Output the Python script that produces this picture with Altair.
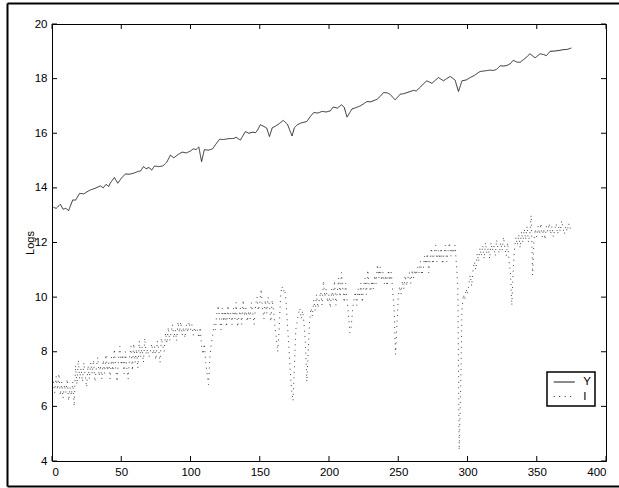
import altair as alt
import pandas as pd

# ---- data ----
y_x = [1, 3, 6, 8, 10, 12, 15, 17, 20, 23, 26, 28, 31, 33, 35, 37, 39, 41, 42, 45,
       47.5, 50, 53, 56, 59, 62, 64, 66, 68, 70, 72, 74, 77, 80, 83, 85.5, 88, 91, 94, 97,
       100, 102, 104, 106, 108, 110, 113, 116, 118, 121, 124, 127, 131, 133, 136, 139.6, 142, 145, 147, 148.5,
       150.4, 153, 155, 157, 159, 161, 164, 167, 170, 173.3, 175, 177, 180, 184, 186.5, 189, 192, 195, 198, 201,
       203, 206, 209, 211, 213, 216.6, 219, 222.6, 225, 227.4, 230, 234.6, 237, 239.4, 242, 244, 247.8, 251.4, 254, 257,
       261, 263, 266, 268, 270.7, 274.3, 277, 279, 282.7, 285, 287.5, 291, 293.5, 296, 299, 302, 305, 309, 312, 316,
       319, 321, 323.6, 326, 328.4, 331, 333, 336, 338, 341, 343, 345, 348.8, 352.4, 355, 357, 359.6, 363, 366, 369,
       372, 375]
y_val = [13.29, 13.25, 13.4, 13.22, 13.25, 13.17, 13.56, 13.55, 13.8, 13.78, 13.88, 13.93, 13.98, 14.03, 14.07, 14.0, 14.13, 14.05, 14.17, 14.38,
         14.17, 14.35, 14.51, 14.5, 14.54, 14.6, 14.62, 14.78, 14.7, 14.75, 14.65, 14.8, 14.78, 14.8, 14.95, 15.2, 15.1, 15.22, 15.31, 15.28,
         15.35, 15.43, 15.4, 15.5, 14.96, 15.4, 15.38, 15.43, 15.58, 15.78, 15.77, 15.8, 15.81, 15.85, 15.75, 16.06, 16.0, 16.04, 16.02, 16.12,
         16.31, 16.25, 16.19, 15.88, 16.2, 16.25, 16.35, 16.47, 16.33, 15.9, 16.2, 16.31, 16.38, 16.43, 16.61, 16.76, 16.74, 16.8, 16.78, 16.82,
         16.96, 16.92, 17.04, 16.95, 16.59, 16.89, 16.93, 17.0, 17.08, 17.16, 17.15, 17.24, 17.35, 17.49, 17.48, 17.43, 17.22, 17.43, 17.45, 17.5,
         17.57, 17.55, 17.69, 17.8, 17.92, 17.83, 17.95, 18.04, 17.92, 18.0, 18.08, 17.95, 17.53, 17.92, 17.95, 18.04, 18.12, 18.26, 18.28, 18.31,
         18.3, 18.34, 18.47, 18.46, 18.48, 18.55, 18.67, 18.6, 18.6, 18.72, 18.8, 18.91, 18.76, 18.91, 18.88, 18.84, 19.0, 19.01, 19.03, 19.06,
         19.07, 19.12]

i_val = [
    6.9, 6.5, 7.1, 6.6, 7.2, 6.4, 6.9, 6.3, 6.8, 6.5, 7.0, 6.2, 6.7, 6.4, 6.9, 6.0, 7.5, 6.8, 7.7, 7.0,
    7.4, 6.9, 7.6, 7.1, 6.7, 7.5, 7.0, 7.6, 7.2, 7.7, 6.9, 7.4, 7.8, 7.1, 7.5, 7.0, 7.7, 7.2, 7.9, 7.3,
    7.6, 7.0, 7.8, 7.3, 8.1, 7.4, 6.9, 7.7, 8.2, 7.5, 7.9, 7.2, 8.0, 7.4, 7.0, 7.8, 8.2, 7.3, 8.3, 7.6,
    8.1, 7.4, 8.4, 7.8, 8.2, 7.6, 8.5, 7.9, 8.1, 7.8, 8.0, 8.3, 7.9, 8.2, 7.7, 8.4, 8.1, 7.6, 8.5, 8.2,
    8.0, 8.7, 8.3, 8.9, 8.4, 8.7, 9.0, 8.5, 8.8, 8.4, 9.1, 8.7, 9.1, 8.6, 8.9, 8.5, 9.0, 8.7, 9.1, 8.8,
    9.0, 8.6, 8.9, 8.7, 8.8, 8.5, 8.9, 8.2, 7.9, 8.3, 7.6, 7.2, 6.8, 7.8, 8.3, 8.6, 9.0, 8.8, 9.4, 9.7,
    9.2, 8.8, 9.6, 9.1, 9.5, 8.9, 9.7, 9.2, 9.4, 9.0, 9.6, 9.2, 9.8, 8.9, 9.3, 9.6, 9.0, 9.9, 9.3, 9.6,
    9.1, 9.5, 9.2, 9.8, 9.4, 9.0, 9.7, 10.0, 9.5, 9.8, 10.3, 9.6, 9.2, 9.9, 9.4, 10.0, 9.7, 9.1, 9.9, 9.5,
    8.9, 8.5, 8.0, 8.8, 10.0, 10.4, 10.2, 10.3, 9.8, 9.0, 8.2, 7.3, 6.6, 6.2, 7.4, 8.8, 9.1, 9.4, 9.6, 9.2,
    9.5, 9.0, 8.3, 6.9, 8.0, 9.1, 9.6, 9.3, 9.9, 9.5, 10.1, 9.6, 9.9, 10.2, 9.7, 10.6, 10.0, 10.3, 9.8, 10.1,
    9.6, 10.3, 9.9, 10.6, 9.7, 10.2, 10.7, 10.0, 10.9, 10.3, 9.8, 10.5, 9.9, 9.4, 8.7, 8.9, 9.5, 9.9, 10.2, 9.7,
    10.3, 10.0, 10.5, 9.8, 10.4, 10.7, 10.1, 11.0, 10.4, 10.2, 10.6, 10.3, 10.8, 10.5, 11.2, 10.7, 11.1, 10.6, 10.9, 10.5,
    10.8, 10.4, 11.0, 10.6, 10.9, 10.2, 9.6, 7.9, 8.9, 10.0, 10.4, 10.1, 10.6, 10.3, 10.8, 10.4, 10.7, 10.9, 10.5, 11.0,
    10.7, 11.0, 10.8, 11.1, 10.9, 11.3, 10.8, 11.0, 11.5, 11.2, 11.6, 10.9, 11.4, 11.8, 11.2, 11.6, 11.9, 11.3, 11.7, 11.4,
    11.8, 11.2, 11.6, 11.9, 11.3, 11.7, 12.0, 11.5, 11.8, 11.6, 11.9, 11.2, 10.4, 4.4, 6.5, 9.5, 10.1, 9.9, 10.3, 10.1,
    10.5, 10.8, 10.4, 11.0, 11.3, 11.0, 11.6, 11.3, 11.8, 11.5, 11.9, 11.4, 12.0, 11.6, 11.8, 11.4, 12.0, 11.7, 11.9, 11.5,
    12.1, 11.8, 11.6, 12.0, 11.7, 12.2, 11.8, 11.5, 12.0, 11.3, 10.9, 9.7, 11.0, 11.8, 12.2, 11.9, 12.3, 11.8, 12.4, 12.0,
    12.5, 12.1, 12.6, 12.0, 12.3, 13.0, 10.8, 12.1, 12.5, 12.2, 12.6, 12.3, 12.7, 12.2, 12.5, 12.1, 12.6, 12.4, 12.7, 12.3,
    12.6, 12.2, 12.5, 12.7, 12.3, 12.6, 12.4, 12.8, 12.5, 12.3, 12.6, 12.4, 12.7, 12.5, 12.6,
]
i_x = list(range(1, len(i_val) + 1))

series_names = ["Y", "I"]
x_ticks = [0, 50, 100, 150, 200, 250, 300, 350, 400]
y_ticks = [4, 6, 8, 10, 12, 14, 16, 18, 20]

W, H = 554, 437
FONT = "Liberation Sans"

df = pd.concat([
    pd.DataFrame({"x": y_x, "v": y_val, "s": "Y", "o": range(len(y_x))}),
    pd.DataFrame({"x": i_x, "v": i_val, "s": "I", "o": range(len(i_x))}),
])

xs = alt.Scale(domain=[0, 400], nice=False, zero=False)
ys = alt.Scale(domain=[4, 20], nice=False, zero=False)

lines = alt.Chart(df).mark_line(strokeWidth=0.9, color="#1a1a1a").encode(
    x=alt.X("x:Q", scale=xs, axis=alt.Axis(values=x_ticks, ticks=False, tickSize=0, domain=False,
                                            grid=False, labelPadding=5, labelFontSize=11.5,
                                            labelFont=FONT, labelColor="black", title=None)),
    y=alt.Y("v:Q", scale=ys, axis=alt.Axis(values=y_ticks, ticks=False, tickSize=0, domain=False,
                                            grid=False, labelPadding=5, labelFontSize=11.5,
                                            labelFont=FONT, labelColor="black", title="Logs",
                                            titleFont=FONT, titleFontSize=11, titleFontWeight="normal",
                                            titleColor="black", titlePadding=-1)),
    strokeDash=alt.StrokeDash("s:N", scale=alt.Scale(domain=series_names, range=[[1, 0], [0.9, 4.6]]),
                              legend=alt.Legend(title=None, orient="none", legendX=495, legendY=348,
                                                symbolType="M-2,0L2,0", symbolSize=110, symbolStrokeWidth=1,
                                                symbolStrokeColor="black", symbolOffset=7.25,
                                                labelFont=FONT, labelFontSize=11.5,
                                                labelColor="black", labelOffset=13, padding=4,
                                                strokeColor="black", fillColor="white", rowPadding=2.5)),
    detail="s:N",
    order="o:Q",
)

xt = pd.DataFrame({"t": x_ticks})
yt = pd.DataFrame({"t": y_ticks})

tb = alt.Chart(xt).mark_rule(color="black", strokeWidth=1).encode(
    x=alt.X("t:Q", scale=xs), y=alt.value(H), y2=alt.value(H - 5))
tt = alt.Chart(xt).mark_rule(color="black", strokeWidth=1).encode(
    x=alt.X("t:Q", scale=xs), y=alt.value(0), y2=alt.value(5))
tl = alt.Chart(yt).mark_rule(color="black", strokeWidth=1).encode(
    y=alt.Y("t:Q", scale=ys), x=alt.value(0), x2=alt.value(5))
tr = alt.Chart(yt).mark_rule(color="black", strokeWidth=1).encode(
    y=alt.Y("t:Q", scale=ys), x=alt.value(W), x2=alt.value(W - 5))

one = pd.DataFrame({"a": [0]})
f_left = alt.Chart(one).mark_rule(color="black", strokeWidth=2).encode(
    x=alt.value(-44.5), y=alt.value(-20.5), y2=alt.value(H + 25.5))
f_top = alt.Chart(one).mark_rule(color="black", strokeWidth=2).encode(
    x=alt.value(-44.5), x2=alt.value(W + 13), y=alt.value(-20.5))
f_bot = alt.Chart(one).mark_rule(color="black", strokeWidth=2).encode(
    x=alt.value(-44.5), x2=alt.value(W + 13), y=alt.value(H + 25.5))

chart = alt.layer(f_left, f_top, f_bot, lines, tb, tt, tl, tr).properties(
    width=W, height=H,
    autosize=alt.AutoSizeParams(type="none"),
    padding={"left": 52, "top": 24, "right": 13, "bottom": 27},
    background="white",
).configure_view(stroke="black", strokeWidth=1).configure_legend(strokeWidth=1.5)

chart.save("out.html", embed_options={"renderer": "svg", "actions": False})
